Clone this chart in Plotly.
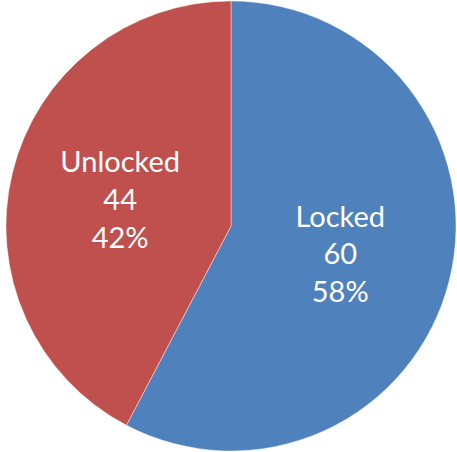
import plotly.graph_objects as go

labels = ["Locked", "Unlocked"]
values = [60, 44]
colors = ["#4F81BD", "#C0504D"]

fig = go.Figure(go.Pie(
    labels=labels,
    values=values,
    sort=False,
    direction="clockwise",
    rotation=0,
    marker=dict(colors=colors, line=dict(color="rgba(255,255,255,0.6)", width=0.7)),
    texttemplate="%{label}<br>%{value}<br>%{percent:.0%}",
    textposition="inside",
    insidetextorientation="horizontal",
    textfont=dict(family="Lato", size=29, color="white"),
    hoverinfo="label+value+percent",
    domain=dict(x=[6/457, 456/457], y=[1/452, 451/452]),
    showlegend=False,
))
fig.update_layout(
    width=457, height=452,
    margin=dict(l=0, r=0, t=0, b=0),
    paper_bgcolor="white",
    plot_bgcolor="white",
)
fig.write_html("out.html")
